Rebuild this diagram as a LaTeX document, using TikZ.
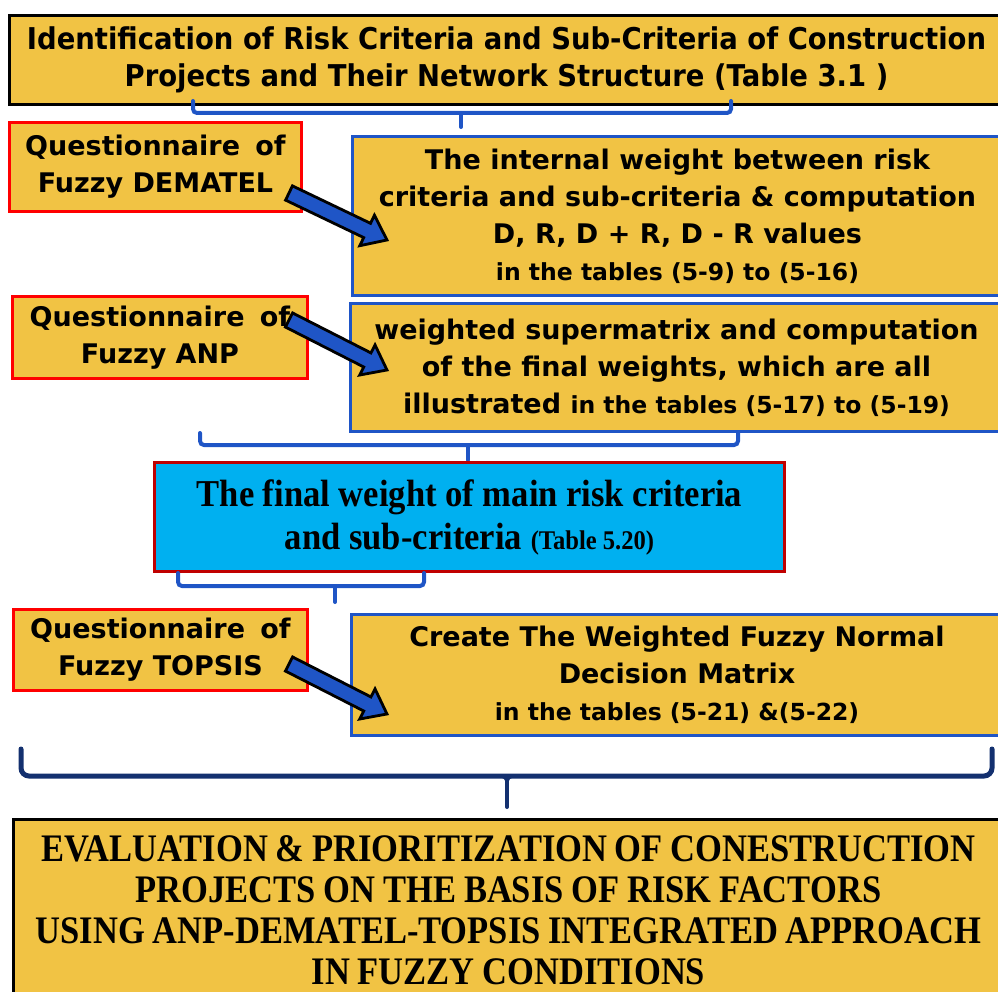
\documentclass[tikz,border=0pt]{standalone}
\usepackage{fontspec}
\usetikzlibrary{shapes.arrows,calc}
\newfontfamily\tahfont{DejaVu Sans}
\newfontfamily\tahtop[FakeStretch=0.915]{DejaVu Sans}
\newfontfamily\tmsfont[FakeStretch=0.91]{Liberation Serif}
\newfontfamily\tmscond[FakeStretch=0.885]{Liberation Serif}
\definecolor{gold}{HTML}{F1C344}
\definecolor{bblue}{HTML}{1F55C6}
\definecolor{navy}{HTML}{13306F}
\definecolor{cyanfill}{HTML}{00B0F0}
\definecolor{dred}{HTML}{C00000}
\newcommand\mainsz{\tahfont\bfseries\fontsize{27}{37}\selectfont}
\newcommand\smallsz{\fontsize{23.5}{37}\selectfont}
\newcommand\blockarrow[2]{%
  \path let \p1=($(#2)-(#1)$), \n1={veclen(\x1,\y1)}, \n2={atan2(\y1,\x1)} in
  node[barrow, minimum height=\n1, rotate=\n2, anchor=tail] at (#1) {};}
\tikzset{
  box/.style={fill=gold, line width=3pt, inner sep=0pt, anchor=north west, align=center},
  qbox/.style={box, draw=red, font=\mainsz},
  rbox/.style={box, draw=bblue, font=\mainsz},
  barrow/.style={single arrow, draw=black, fill=bblue, line width=2.8pt,
    inner xsep=0pt, inner ysep=6.5pt, single arrow head extend=9pt,
    single arrow tip angle=75, outer sep=0pt},
  brace/.style={draw=bblue, line width=4pt, rounded corners=4pt, line cap=round},
  bigbrace/.style={draw=navy, line width=5pt, rounded corners=8pt, line cap=round}
}
\begin{document}
\begin{tikzpicture}[x=1pt,y=-1pt]
\useasboundingbox (0,0) rectangle (998,992);
% top box
\node[box, draw=black, minimum width=994pt, minimum height=89pt,
  font={\tahtop\bfseries\fontsize{30}{37}\selectfont}] (top) at (8,14)
  {Identification of Risk Criteria and Sub-Criteria of Construction\\
   Projects and Their Network Structure (Table 3.1 )};
% brace 1
\draw[brace] (193,101) -- (193,113) -- (731,113) -- (731,101);
\coordinate (b1s) at (461,113);
\coordinate (b1e) at (461,127);
\draw[brace, rounded corners=0pt] (b1s) -- (b1e);
% DEMATEL
\node[qbox, minimum width=292pt, minimum height=89pt] (qdem) at (8,121)
  {Questionnaire\hspace{6pt} of\\Fuzzy DEMATEL};
\node[rbox, minimum width=650pt, minimum height=159pt] (bdem) at (351,135)
  {The internal weight between risk\\
   criteria and sub-criteria \& computation\\
   D, R, D + R, D - R values\\
   {\smallsz in the tables (5-9) to (5-16)}};
\coordinate (a1s) at (289,193);
\coordinate (a1e) at (387,240);
\blockarrow{a1s}{a1e}
% ANP
\node[qbox, minimum width=295pt, minimum height=82pt] (qanp) at (11,295)
  {Questionnaire\hspace{6pt} of\\Fuzzy ANP};
\node[rbox, minimum width=652pt, minimum height=128pt] (banp) at (349,302)
  {weighted supermatrix and computation\\
   of the final weights, which are all\\
   illustrated {\smallsz in the tables (5-17) to (5-19)}};
\coordinate (a2s) at (289,320);
\coordinate (a2e) at (387,370);
\blockarrow{a2s}{a2e}
% brace 2
\draw[brace] (200,433) -- (200,445) -- (738,445) -- (738,433);
\coordinate (b2s) at (468,445);
\coordinate (b2e) at (468,460);
\draw[brace, rounded corners=0pt] (b2s) -- (b2e);
% final weight
\node[box, fill=cyanfill, draw=dred, minimum width=630pt, minimum height=109pt,
  font={\tmsfont\bfseries\fontsize{38}{43}\selectfont}] (fw) at (153,461)
  {The final weight of main risk criteria\\
   and sub-criteria {\fontsize{27}{43}\selectfont(Table 5.20)}};
% brace 3
\draw[brace] (178,573) -- (178,586) -- (424,586) -- (424,573);
\coordinate (b3s) at (335,586);
\coordinate (b3e) at (335,602);
\draw[brace, rounded corners=0pt] (b3s) -- (b3e);
% TOPSIS
\node[qbox, minimum width=294pt, minimum height=81pt] (qtop) at (12,608)
  {Questionnaire\hspace{6pt} of\\Fuzzy TOPSIS};
\node[rbox, minimum width=651pt, minimum height=121pt] (btop) at (350,613)
  {Create The Weighted Fuzzy Normal\\
   Decision Matrix\\
   {\smallsz in the tables (5-21) \&(5-22)}};
\coordinate (a3s) at (289,664);
\coordinate (a3e) at (387,714);
\blockarrow{a3s}{a3e}
% big brace
\draw[bigbrace] (21,749) -- (21,776) -- (992,776) -- (992,749);
\coordinate (bbs) at (507,776);
\coordinate (bbe) at (507,807);
\draw[draw=navy, line width=4pt, line cap=round] (bbs) -- (bbe);
\draw[draw=navy, line width=2.5pt] (497,776) .. controls (505,776) and (507,778) .. (507,786);
\draw[draw=navy, line width=2.5pt] (517,776) .. controls (509,776) and (507,778) .. (507,786);
% bottom box
\node[box, draw=black, minimum width=990pt, minimum height=182pt,
  font={\tmscond\bfseries\fontsize{39}{41}\selectfont\spaceskip=0.2em plus 0.05em}] (eval) at (12,818)
  {EVALUATION \& PRIORITIZATION OF CONESTRUCTION\\
   PROJECTS ON THE BASIS OF RISK FACTORS\\
   USING ANP-DEMATEL-TOPSIS INTEGRATED APPROACH\\
   IN FUZZY CONDITIONS};
\end{tikzpicture}
\end{document}
